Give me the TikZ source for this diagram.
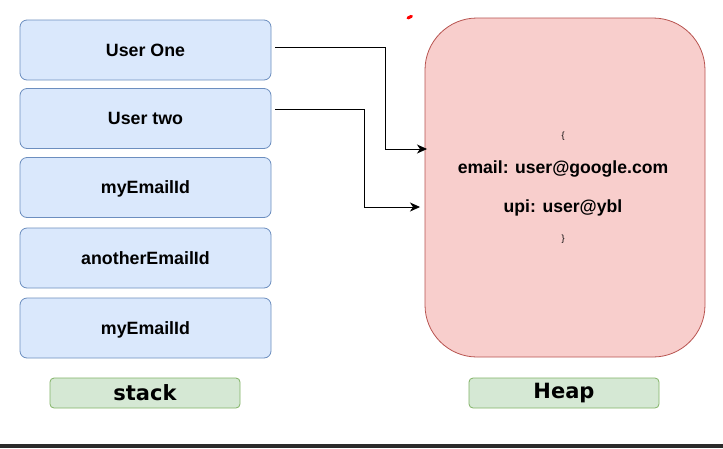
\documentclass[tikz,border=0pt]{standalone}
\usepackage{fontspec}
\setmainfont{Liberation Sans}
\newfontfamily\comicfont{DejaVu Sans}
\usetikzlibrary{arrows.meta}
\definecolor{bluefill}{HTML}{DAE8FC}
\definecolor{bluedraw}{HTML}{6C8EBF}
\definecolor{redfill}{HTML}{F8CECC}
\definecolor{reddraw}{HTML}{B85450}
\definecolor{greenfill}{HTML}{D5E8D4}
\definecolor{greendraw}{HTML}{82B366}
\definecolor{barcol}{HTML}{2B2B2B}
\tikzset{
  stackbox/.style={draw=bluedraw, fill=bluefill, rounded corners=7pt, line width=0.8pt,
    minimum width=251pt, minimum height=60pt, inner sep=0pt, text depth=0pt,
    font=\fontsize{17.8}{20}\selectfont\bfseries},
  labelbox/.style={draw=greendraw, fill=greenfill, rounded corners=4pt, line width=0.8pt,
    minimum width=190pt, minimum height=30pt, inner sep=0pt, font=\comicfont\fontsize{21}{24}\selectfont\bfseries},
  heaptext/.style={font=\fontsize{17.6}{20}\selectfont\bfseries},
  brace/.style={font=\fontsize{9}{10}\selectfont},
  link/.style={line width=0.8pt, -{Stealth[length=10pt,width=9pt,inset=3pt]}},
}
\begin{document}
\begin{tikzpicture}[x=1pt,y=-1pt]
\useasboundingbox (0,0) rectangle (723,448);
\fill[white] (0,0) rectangle (723,448);
\fill[barcol] (0,444) rectangle (723,448);
% stack
\node[stackbox] (u1) at (145.5,50) {User One};
\node[stackbox] (u2) at (145.5,118.5) {User two};
\node[stackbox] (e1) at (145.5,187.5) {myEmailId};
\node[stackbox] (e2) at (145.5,258) {anotherEmailId};
\node[stackbox] (e3) at (145.5,328) {myEmailId};
% heap
\node[draw=reddraw, fill=redfill, line width=0.8pt, rounded corners=52pt,
  minimum width=280pt, minimum height=339pt, inner sep=0pt] (heap) at (565,187.5) {};
\node[brace] (ob) at (563,136) {\{};
\node[heaptext] (em) at (563,168.5) {email: user@google.com};
\node[heaptext] (up) at (563,207.5) {upi: user@ybl};
\node[brace] (cb) at (563,239) {\}};
% labels
\node[labelbox] (stk) at (145,393) {stack};
\node[labelbox] (hp) at (564,393) {Heap};
% red mark
\draw[red, line width=3pt, line cap=round] (408,18) -- (411.5,16.3);
% connectors
\coordinate (a1) at (275,47);
\coordinate (t1) at (427,149);
\coordinate (a2) at (275,109);
\coordinate (t2) at (420,207);
\draw[link] (a1) -- (385,47) -- (385,149) -- (t1);
\draw[link] (a2) -- (364,109) -- (364,207) -- (t2);
\end{tikzpicture}
\end{document}
